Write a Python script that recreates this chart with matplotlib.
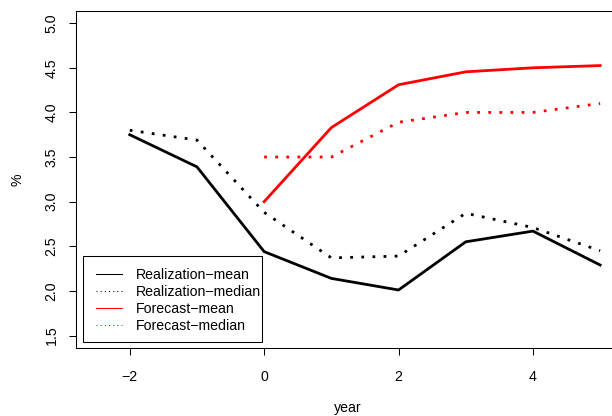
# Realization vs forecast, mean and median paths by year

import numpy as np
import matplotlib.pyplot as plt
from matplotlib.lines import Line2D
from matplotlib.patches import Rectangle

plt.rcParams['font.family'] = ['Liberation Sans', 'DejaVu Sans']

# %% data
years_real = [-2, -1, 0, 1, 2, 3, 4, 5]
real_mean = [3.75, 3.39, 2.44, 2.14, 2.01, 2.55, 2.67, 2.29]
real_median = [3.80, 3.69, 2.88, 2.37, 2.39, 2.87, 2.71, 2.45]

years_fc = [0, 1, 2, 3, 4, 5]
fc_mean = [3.00, 3.83, 4.31, 4.455, 4.50, 4.525]
fc_median = [3.50, 3.50, 3.89, 4.00, 4.00, 4.10]

legend_labels = ['Realization\u2212mean', 'Realization\u2212median',
                 'Forecast\u2212mean', 'Forecast\u2212median']

xticks = [-2, 0, 2, 4]
yticks = [1.5, 2.0, 2.5, 3.0, 3.5, 4.0, 4.5, 5.0]

# %% figure
W, H = 612, 416
fig = plt.figure(figsize=(W / 100, H / 100), dpi=100)
ax = fig.add_axes([76 / W, (H - 348) / H, 544.3 / W, 337.3 / H])

fs = 10.2
lw = 2.0
dots = (0, (1, 3))

ax.plot(years_real, real_mean, color='black', lw=lw)
ax.plot(years_real, real_median, color='black', lw=lw, linestyle=dots)
ax.plot(years_fc, fc_mean, color='red', lw=lw)
ax.plot(years_fc, fc_median, color='red', lw=lw, linestyle=dots)

ax.set_xlim(-2.80, 5.30)
ax.set_ylim(1.36, 5.14)
ax.set_xticks(xticks)
ax.set_xticklabels([f'{t:g}'.replace('-', '\u2212') for t in xticks])
ax.set_yticks(yticks)
ax.set_yticklabels([f'{t:.1f}' for t in yticks], rotation=90, va='center')

for s in ax.spines.values():
    s.set_linewidth(0.75)
ax.tick_params(length=5, width=0.75, labelsize=fs, colors='black')
ax.tick_params(axis='x', pad=10.5)
ax.tick_params(axis='y', pad=7.5)

ax.set_xlabel('year', fontsize=fs, labelpad=12.5)
ax.set_ylabel('%', fontsize=fs, labelpad=14.5)

# %% legend (frame drawn separately: R puts no padding right of the text)
handles = [
    Line2D([], [], color='black', lw=0.75),
    Line2D([], [], color='black', lw=0.75, linestyle=dots),
    Line2D([], [], color='red', lw=0.75),
    Line2D([], [], color='red', lw=0.75, linestyle=dots),
]
leg = ax.legend(handles, legend_labels, loc='upper left',
                bbox_to_anchor=(96 / W, (H - 268) / H),
                bbox_transform=fig.transFigure,
                borderaxespad=0, fontsize=fs, frameon=False, borderpad=0,
                labelspacing=0.21, handlelength=1.85, handletextpad=0.98)
frame = Rectangle((83 / W, (H - 342) / H), 179 / W, 86 / H,
                  transform=fig.transFigure, facecolor='white',
                  edgecolor='black', lw=0.75, zorder=4)
ax.add_patch(frame)
leg.set_zorder(5)

fig.savefig('out.png', dpi=100)
